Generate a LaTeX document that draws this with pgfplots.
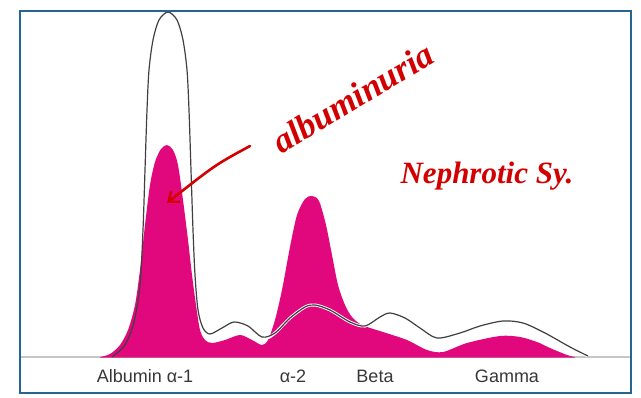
\documentclass[border=0pt]{standalone}
\usepackage{pgfplots}
\pgfplotsset{compat=1.18}
\usepackage{fontspec}
\setmainfont{Liberation Sans}
\newfontfamily\hand{Liberation Serif}
\usetikzlibrary{arrows.meta}
\definecolor{frameblue}{RGB}{40,100,145}
\definecolor{mag}{RGB}{225,8,125}
\definecolor{hred}{RGB}{210,0,0}
\definecolor{txt}{RGB}{55,55,55}
\begin{document}
\begin{tikzpicture}
\begin{axis}[
  hide axis, scale only axis,
  width=641pt, height=397pt,
  xmin=0, xmax=641, ymin=0, ymax=397,
  clip=false,
  y dir=reverse,
]
\path (axis cs:0,0) rectangle (axis cs:641,397);
% baseline
\draw[gray!45, line width=1.6pt] (axis cs:21,357) -- (axis cs:630,357);
% magenta serum profile
\addplot[fill=mag, draw=none, smooth, tension=0.5] coordinates {
(100,357) (110,354) (120,345) (128,330) (135,305) (140,270) (145,225) (150,185) (155,162) (161,149) (167,145) (173,150) (178,165) (183,200) (188,240) (192,275) (196,305) (200,330) (205,340) (212,343) (225,340) (240,335) (252,340) (262,345) (268,340) (275,320) (282,290) (290,247) (297,215) (305,199) (312,196) (319,201) (326,225) (332,255) (338,285) (345,305) (352,317) (362,325) (383,332) (407,340) (427,350) (443,352) (467,343) (500,336) (520,337) (537,342) (550,348) (567,355) (575,357)
} -- (axis cs:575,357.5) -- (axis cs:100,357.5) -- cycle;
% normal profile: white halo then black line
\addplot[white, line width=3pt, smooth, tension=0.5] coordinates {
(196,280) (200,315) (205,330) (212,333) (225,326) (238,322) (252,328) (265,338) (275,333) (290,318) (305,307) (315,305) (330,310) (350,322) (365,326) (380,317) (390,313) (405,318) (420,328) (437,338) (460,333) (480,326) (503,321) (523,323) (545,333) (570,347) (588,356)
};
\addplot[black!75, line width=1.2pt, smooth, tension=0.5] coordinates {
(112,357) (125,345) (134,322) (140,285) (143,230) (145,170) (147,110) (149,70) (153,40) (159,20) (168,12) (177,20) (183,40) (187,70) (189,110) (191,170) (193,230) (195,275) (198,310) (203,328) (210,334) (222,328) (234,322) (248,326) (262,337) (275,333) (290,318) (305,307) (315,305) (330,310) (350,322) (365,326) (380,317) (390,313) (405,318) (420,328) (437,338) (460,333) (480,326) (503,321) (523,323) (545,333) (570,347) (588,356)
};
% frame
\draw[frameblue, line width=1.6pt] (axis cs:20,11) rectangle (axis cs:631,393);
% labels
\node[txt, font=\fontsize{18}{18}\selectfont] at (axis cs:145,376) {Albumin α-1};
\node[txt, font=\fontsize{18}{18}\selectfont] at (axis cs:293,376) {α-2};
\node[txt, font=\fontsize{18}{18}\selectfont] at (axis cs:375,376) {Beta};
\node[txt, font=\fontsize{18}{18}\selectfont] at (axis cs:507,376) {Gamma};
% handwritten annotations
\draw[hred, line width=2.6pt, line cap=round, -{Straight Barb[length=9pt,width=14pt,line width=2.4pt]}] (axis cs:250,146) .. controls (axis cs:215,165) .. (axis cs:167,203);
\node[hred, font=\hand\bfseries\itshape\fontsize{35}{35}\selectfont, rotate=31] at (axis cs:353,98) {albuminuria};
\node[hred, font=\hand\bfseries\itshape\fontsize{31}{31}\selectfont] at (axis cs:487,176) {Nephrotic Sy.};
\end{axis}
\end{tikzpicture}
\end{document}
